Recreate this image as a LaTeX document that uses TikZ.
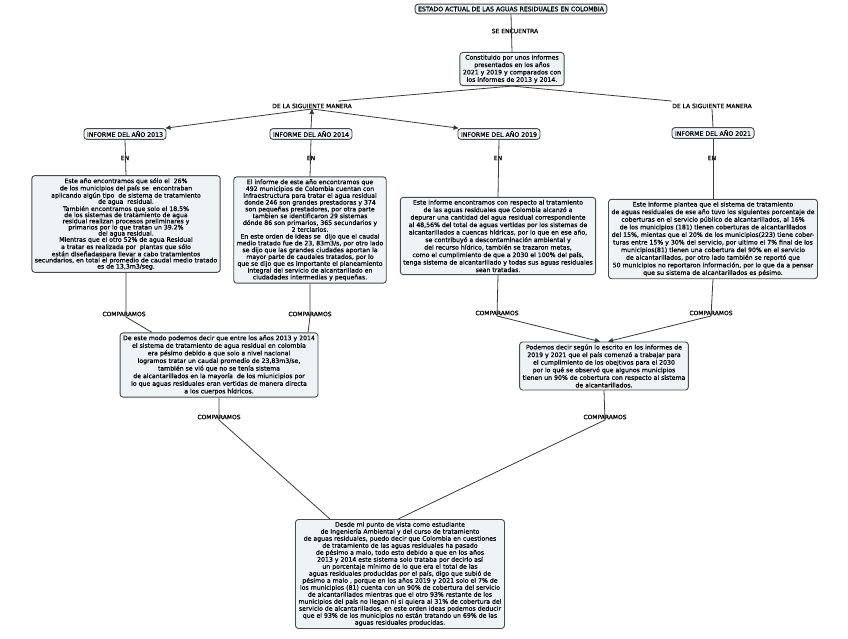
\documentclass[tikz,border=0pt]{standalone}
\usepackage{fontspec}
\setmainfont{DejaVu Sans}[FakeBold=0.5]
\usetikzlibrary{arrows.meta}
\definecolor{boxfill}{HTML}{EEF3F5}
\definecolor{boxline}{HTML}{4A4A4A}
\definecolor{linecol}{HTML}{3A3A3A}
\tikzset{
  concept/.style={draw=boxline, fill=boxfill, rounded corners=3pt, line width=0.9pt,
    align=center, inner xsep=3pt, inner ysep=2.5pt, font=\fontsize{6.2}{7.4}\selectfont},
  linklbl/.style={inner sep=0.5pt, font=\fontsize{6}{6.5}\selectfont},
  conn/.style={draw=linecol, line width=0.8pt},
  arr/.style={conn, -{Triangle[length=5pt,width=4.5pt]}}
}
\begin{document}
\begin{tikzpicture}[x=1pt,y=-1pt]
\useasboundingbox[fill=white] (0,0) rectangle (848,638);

% concepts
\node[concept] (title) at (511,9) {ESTADO ACTUAL DE LAS AGUAS RESIDUALES EN COLOMBIA};
\node[concept] (intro) at (512,69) {Constituido por unos informes\\ presentados en los años\\ 2021 y 2019 y comparados con\\ los informes de 2013 y 2014.};

\node[concept] (b13) at (125,134) {INFORME DEL AÑO 2013};
\node[concept] (b14) at (311,134) {INFORME DEL AÑO 2014};
\node[concept] (b19) at (499,134) {INFORME DEL AÑO 2019};
\node[concept] (b21) at (713,133) {INFORME DEL AÑO 2021};

\node[concept, font=\fontsize{6.2}{6.15}\selectfont] (t13) at (126,224) {Este año encontramos que sólo el \ 26\%\\ de los municipios del país se \ encontraban\\ aplicando algún tipo \ de sistema de tratamiento\\ de agua \ residual.\\ También encontramos que solo el 18.5\%\\ de los sistemas de tratamiento de agua\\ residual realizan procesos preliminares y\\ primarios por lo que tratan un 39.2\%\\ del agua residual.\\ Mientras que el otro 52\% de agua Residual\\ a tratar es realizada por \ plantas que sólo\\ están diseñadaspara llevar a cabo tratamientos\\ secundarios, en total el promedio de caudal medio tratado\\ es de 13,3m3/seg.};

\node[concept, font=\fontsize{6.2}{6.8}\selectfont] (t14) at (310,230) {El informe de este año encontramos que\\ 492 municipios de Colombia cuentan con\\ infraestructura para tratar el agua residual\\ donde 246 son grandes prestadoras y 374\\ son pequeñas prestadores, por otra parte\\ tambien se identificaron 29 sistemas\\ dónde 86 son primarios, 365 secundarios y\\ 2 terciarios.\\ En este orden de ideas se \ dijo que el caudal\\ medio tratado fue de 23, 83m3/s, por otro lado\\ se dijo que las grandes ciudades aportan la\\ mayor parte de caudales tratados, por lo\\ que se dijo que es importante el planeamiento\\ integral del servicio de alcantarillado en\\ ciudadades intermedias y pequeñas.};

\node[concept, font=\fontsize{6.2}{7.5}\selectfont] (t19) at (498,236) {Este informe encontramos con respecto al tratamiento\\ de las aguas residuales que Colombia alcanzó a\\ depurar una cantidad del agua residual correspondiente\\ al 48,56\% del total de aguas vertidas por los sistemas de\\ alcantarillados a cuencas hídricas, por lo que en ese año,\\ se contribuyó a descontaminación ambiental y\\ del recurso hídrico, también se trazaron metas,\\ como el cumplimiento de que a 2030 el 100\% del país,\\ tenga sistema de alcantarillado y todas sus aguas residuales\\ sean tratadas.};

\node[concept, font=\fontsize{6.2}{7.6}\selectfont] (t21) at (713,239) {Este informe plantea que el sistema de tratamiento\\ de aguas residuales de ese año tuvo los siguientes porcentaje de\\ coberturas en el servicio público de alcantarillados, al 16\%\\ de los municipios (181) tienen coberturas de alcantarillados\\ del 15\%, mientas que el 20\% de los municipios(223) tiene cober-\\ turas entre 15\% y 30\% del servicio, por ultimo el 7\% final de los\\ municipios(81) tienen una cobertura del 90\% en el servicio\\ de alcantarillados, por otro lado también se reportó que\\ 50 municipios no reportaron información, por lo que da a pensar\\ que su sistema de alcantarillados es pésimo.};

\node[concept, font=\fontsize{6.2}{7.6}\selectfont] (comp1) at (219,365) {De este modo podemos decir que entre los años 2013 y 2014\\ el sistema de tratamiento de agua residual en colombia\\ era pésimo debido a que solo a nivel nacional\\ logramos tratar un caudal promedio de 23,83m3/se,\\ también se vió que no se tenía sistema\\ de alcantarillados en la mayoría \ de los miunicipios por\\ lo que aguas residuales eran vertidas de manera directa\\ a los cuerpos hídricos.};

\node[concept, font=\fontsize{6.2}{7.6}\selectfont] (comp2) at (604,366) {Podemos decir según lo escrito en los informes de\\ 2019 y 2021 que el país comenzó a trabajar para\\ el cumplimiento de los obejtivos para el 2030\\ por lo qué se observó que algunos municipios\\ tienen un 90\% de cobertura con respecto al sistema\\ de alcantarillados.};

\node[concept, font=\fontsize{6.2}{7.0}\selectfont] (final) at (400,574) {Desde mi punto de vista como estudiante\\ de Ingeniería Ambiental y del curso de tratamiento\\ de aguas residuales, puedo decir que Colombia en cuestiones\\ de tratamiento de las aguas residuales ha pasado\\ de pésimo a malo, todo esto debido a que en los años\\ 2013 y 2014 este sistema solo trataba por decirlo así\\ un porcentaje mínimo de lo que era el total de las\\ aguas residuales producidas por el país, digo que subió de\\ pésimo a malo , porque en los años 2019 y 2021 solo el 7\% de\\ los municipios (81) cuenta con un 90\% de cobertura del servicio\\ de alcantarillados mientras que el otro 93\% restante de los\\ municipios del país no llegan ni si quiera al 31\% de cobertura del\\ servicio de alcantarillados, en este orden ideas podemos deducir\\ que el 93\% de los municipios no están tratando un 69\% de las\\ aguas residuales producidas.};

% linking labels
\node[linklbl] (se) at (515,31) {SE ENCUENTRA};
\node[linklbl] (dl) at (312,106) {DE LA SIGUIENTE MANERA};
\node[linklbl] (dr) at (712,106) {DE LA SIGUIENTE MANERA};
\node[linklbl] (en13) at (125,158) {EN};
\node[linklbl] (en14) at (311,158) {EN};
\node[linklbl] (en19) at (498,158) {EN};
\node[linklbl] (en21) at (712,158) {EN};
\node[linklbl] (ca) at (124,314) {COMPARAMOS};
\node[linklbl] (cb) at (310,314) {COMPARAMOS};
\node[linklbl] (cc) at (497,313) {COMPARAMOS};
\node[linklbl] (cd) at (711,313) {COMPARAMOS};
\node[linklbl] (ce) at (219,417) {COMPARAMOS};
\node[linklbl] (cf) at (605,417) {COMPARAMOS};

% connectors
\draw[conn] (title.south) -- (intro.north);
\draw[conn] (intro.south) -- ([xshift=-14pt,yshift=2pt]dl.north east);
\draw[conn] (intro.south) -- ([yshift=2pt]dr.north west);
\draw[arr] (dl.south) -- ([xshift=-1pt]b13.north east);
\draw[arr] (dl.south) -- ([xshift=1pt]b19.north west);
\draw[arr] (b14.north) -- (dl.south);
\draw[conn] (dr.south) -- (b21.north);
\draw[conn] (b13.south) -- (t13.north);
\draw[conn] (b14.south) -- (t14.north);
\draw[conn] (b19.south) -- (t19.north);
\draw[conn] (b21.south) -- (t21.north);
\draw[conn] (t13.south) -- ([xshift=2pt]ca.south) -- ([xshift=-67pt]comp1.north);
\draw[conn] (t14.south) -- (cb.south) -- ([xshift=89pt]comp1.north);
\draw[arr] (t19.south) -- (cc.south) -- ([xshift=-4pt]comp2.north);
\draw[arr] (t21.south) -- (cd.south) -- ([xshift=4pt]comp2.north);
\draw[conn] (comp1.south) -- (ce.south) -- ([xshift=-70pt]final.north);
\draw[conn] (comp2.south) -- (cf.south) -- ([xshift=-2pt]final.north);
\end{tikzpicture}
\end{document}
